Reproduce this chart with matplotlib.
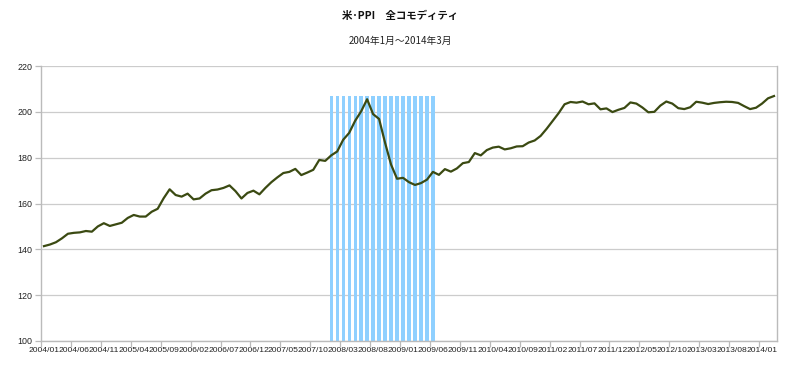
import numpy as np
from matplotlib import pyplot as plt

plt.rcParams['font.family'] = ['Noto Sans CJK JP', 'DejaVu Sans']

# US PPI all commodities, 2004/01 - 2014/03 (monthly)
ppi = [
    141.4, 142.1, 143.1, 144.8, 146.8, 147.2, 147.4, 148.0, 147.7, 150.0, 151.4, 150.2,
    150.9, 151.6, 153.7, 155.0, 154.3, 154.3, 156.4, 157.7, 162.3, 166.2, 163.7, 163.0,
    164.3, 161.8, 162.2, 164.3, 165.8, 166.1, 166.8, 167.9, 165.4, 162.2, 164.6, 165.6,
    164.0, 166.8, 169.3, 171.4, 173.3, 173.8, 175.1, 172.4, 173.5, 174.7, 179.0, 178.6,
    181.0, 182.7, 187.8, 190.8, 196.1, 200.2, 205.5, 199.0, 196.9, 186.5, 177.0, 170.8,
    171.2, 169.3, 168.1, 168.9, 170.4, 173.8, 172.5, 175.0, 173.9, 175.3, 177.6, 178.1,
    182.0, 181.0, 183.3, 184.4, 184.8, 183.6, 184.1, 184.9, 185.0, 186.6, 187.5, 189.5,
    192.6, 196.0, 199.4, 203.3, 204.3, 204.0, 204.5, 203.3, 203.7, 201.1, 201.5, 199.9,
    200.9, 201.7, 204.1, 203.6, 201.9, 199.8, 200.0, 202.7, 204.5, 203.6, 201.6, 201.2,
    202.0, 204.4, 204.0, 203.4, 203.9, 204.2, 204.4, 204.3, 203.9, 202.5, 201.2, 201.8,
    203.6, 205.9, 206.9,
]
months = ['%d/%02d' % (2004 + i // 12, i % 12 + 1) for i in range(len(ppi))]

# recession shading 2008/01 - 2009/06
recession_start = '2008/01'
recession_end = '2009/06'
recession_level = 207

x = np.arange(len(ppi))
i0 = months.index(recession_start)
i1 = months.index(recession_end)

fig = plt.figure(figsize=(8, 3.67), dpi=100)
ax = fig.add_axes([41 / 800, 26 / 367, 736 / 800, 275 / 367])

ax.bar(x[i0:i1 + 1], [recession_level - 100] * (i1 - i0 + 1), bottom=100,
       width=0.55, color='#8fd0ff', zorder=2)
ax.plot(x, ppi, color='#3b4a12', lw=1.6, zorder=3)

ax.set_xlim(-0.5, len(ppi) - 0.5)
ax.set_ylim(100, 220)
ax.set_yticks(range(100, 221, 20))
ax.yaxis.grid(True, color='#cccccc', lw=0.9, zorder=0)
ax.set_axisbelow(True)

ax.set_xticks(x[::5])
ax.set_xticklabels(months[::5])
ax.set_xticks(x[::5] - 0.5, minor=True)
ax.tick_params(axis='x', which='major', length=0, pad=4, labelsize=6.1, labelcolor='#222222')
ax.tick_params(axis='x', which='minor', length=4, color='#bbbbbb', width=0.9)
ax.tick_params(axis='y', length=4, color='#bbbbbb', width=0.9, labelsize=6.4,
               labelcolor='#222222', pad=2)
for lab in ax.get_xticklabels() + ax.get_yticklabels():
    lab.set_family(['Liberation Sans Narrow', 'Liberation Sans', 'DejaVu Sans'])

for s in ['left', 'bottom', 'right']:
    ax.spines[s].set_color('#bbbbbb')
    ax.spines[s].set_linewidth(1.0)
ax.spines['top'].set_visible(False)

fig.text(0.5, 1 - 16 / 367, '米･PPI　全コモディティ', ha='center', va='center',
         fontsize=7.5, fontweight='bold', color='#111111')
fig.text(0.5, 1 - 41 / 367, '2004年1月～2014年3月', ha='center', va='center',
         fontsize=7, color='#222222')

fig.savefig('out.png', dpi=100, facecolor='white')
